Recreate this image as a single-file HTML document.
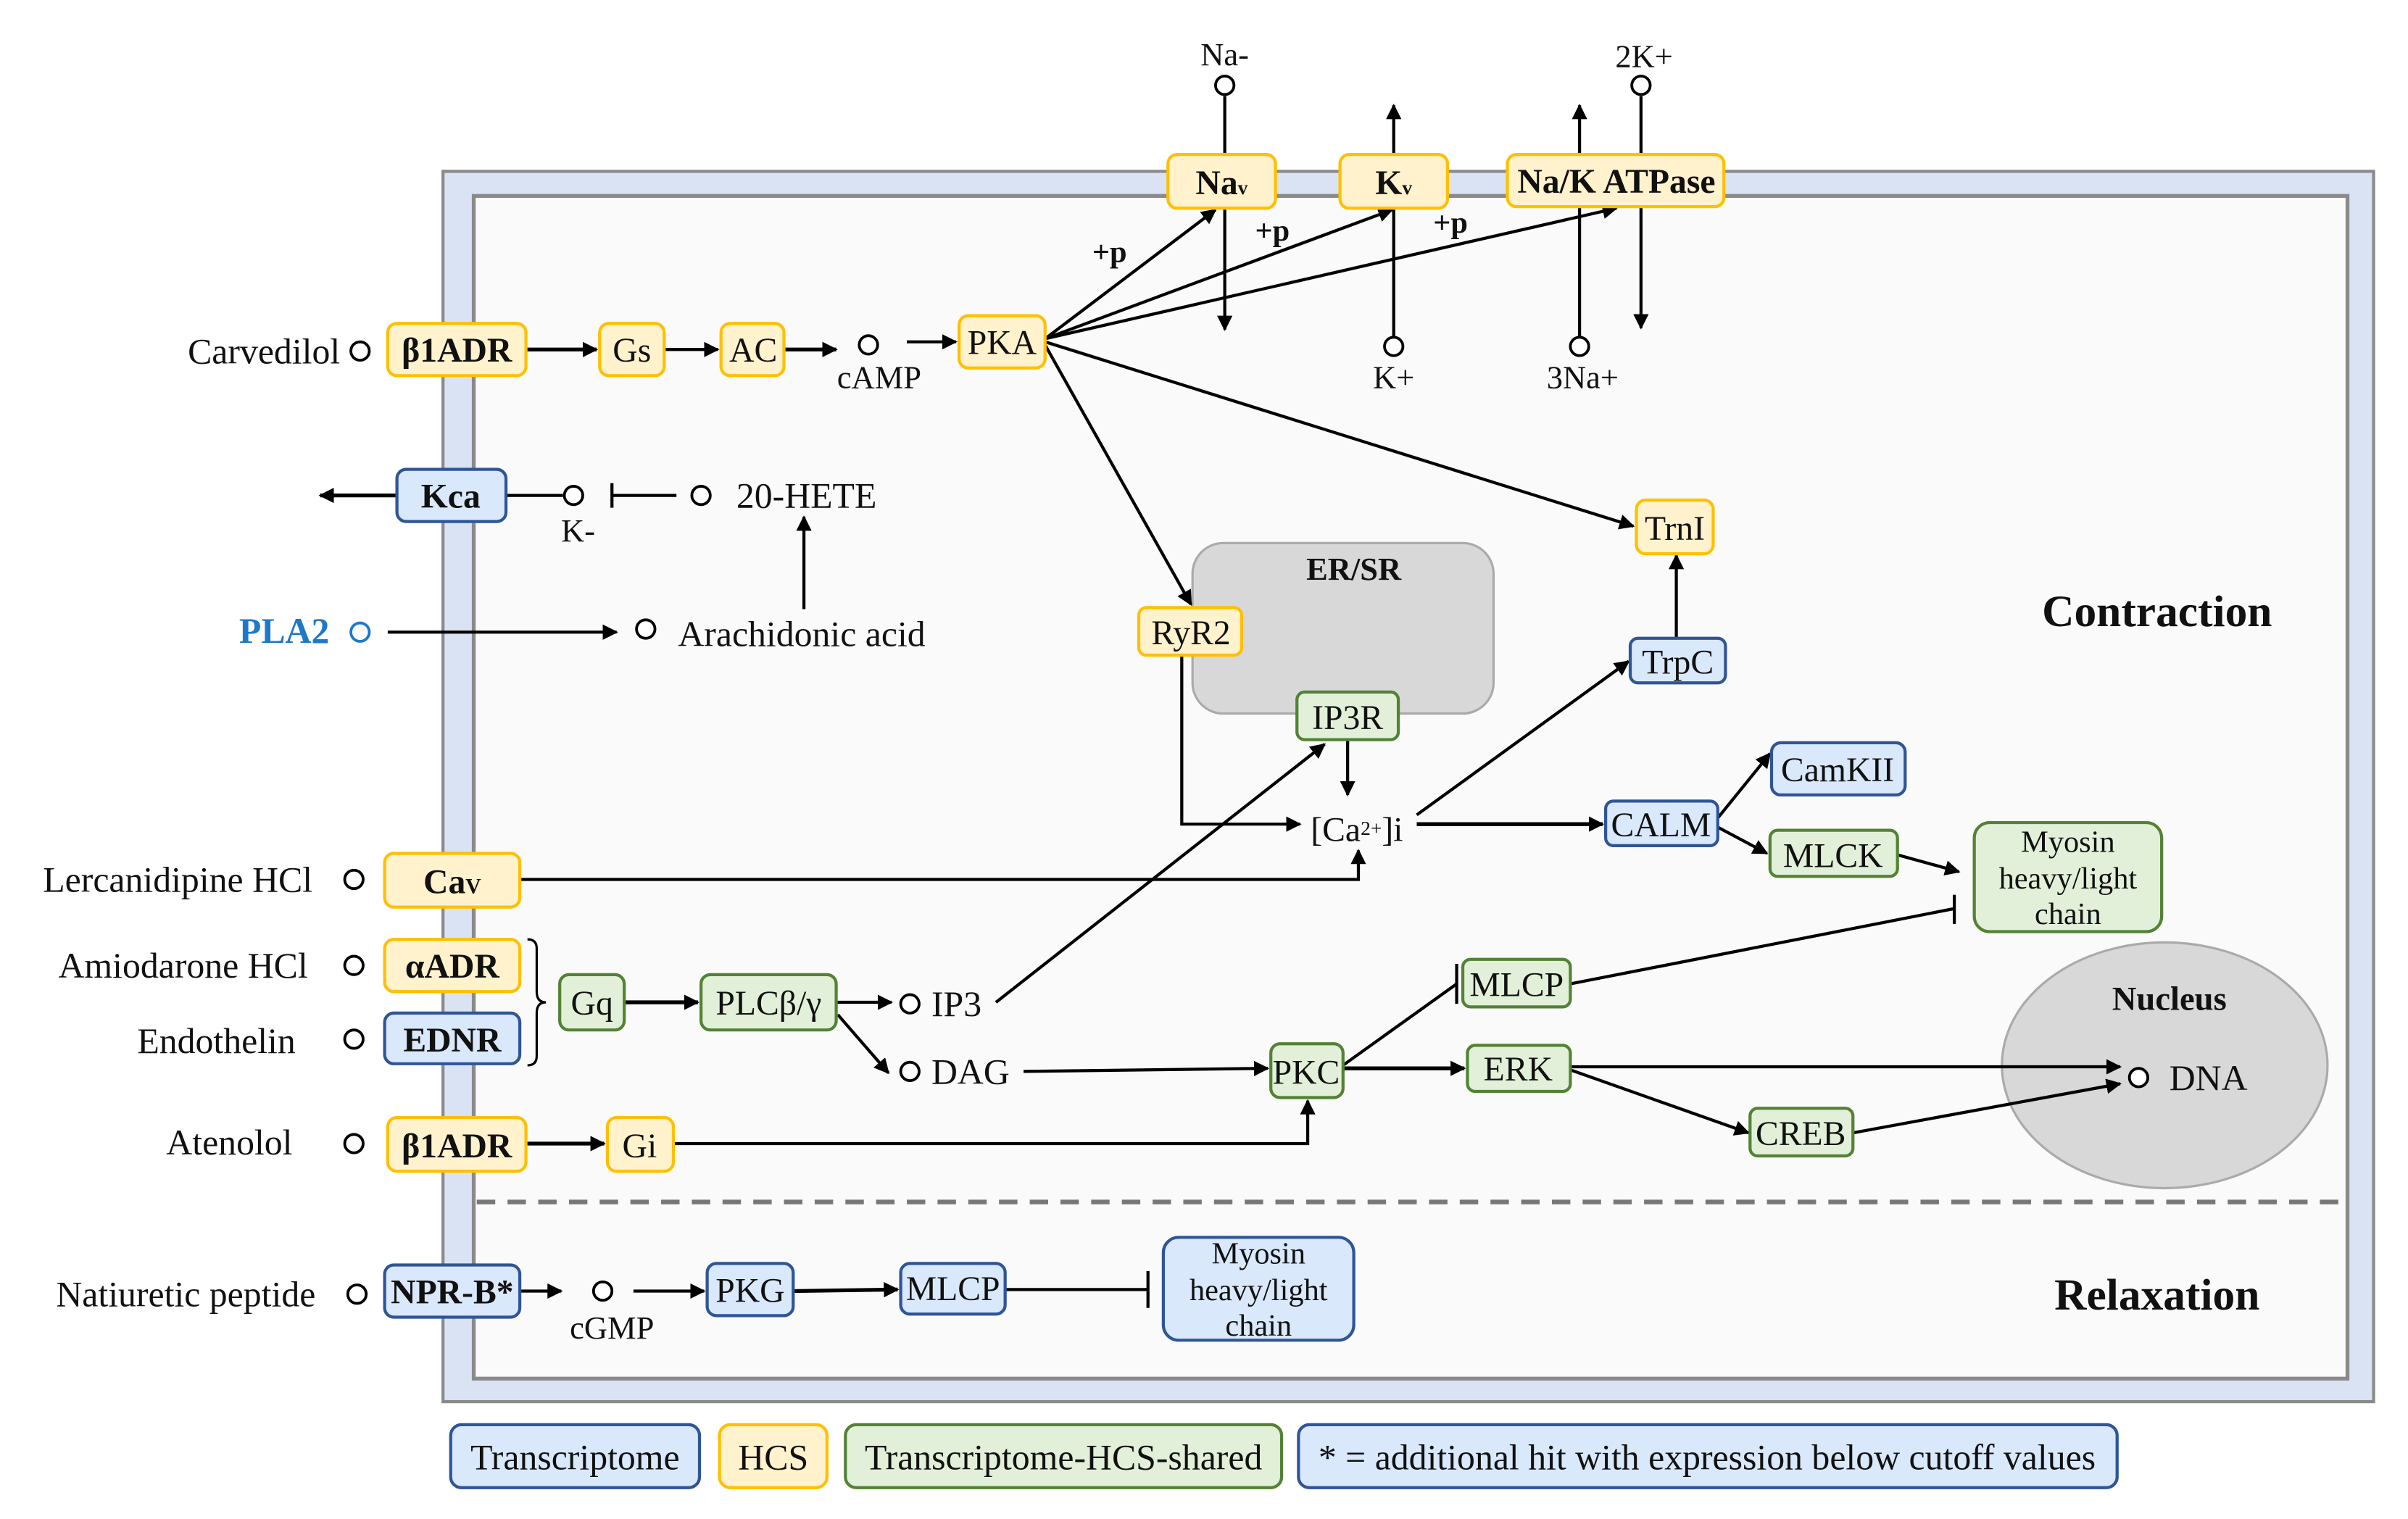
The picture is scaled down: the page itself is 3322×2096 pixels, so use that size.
<!DOCTYPE html>
<html><head><meta charset="utf-8"><style>
html,body{margin:0;padding:0;background:#fff;}
svg{display:block;}
text{font-family:"Liberation Serif",serif;fill:#111;}
.n{font-size:22.5px;text-anchor:middle;}
.b{font-weight:bold;}
.l{font-size:23.5px;}
.lg{font-size:23.5px;text-anchor:middle;}
.ln{stroke:#000;stroke-width:2;fill:none;}
.c{fill:#fff;stroke:#000;stroke-width:1.8;}
.y{fill:#fff2cc;stroke:#ffc000;stroke-width:2;}
.bl{fill:#dae8fc;stroke:#2f5597;stroke-width:2;}
.g{fill:#e2f0d9;stroke:#548235;stroke-width:2;}
</style></head><body>
<svg width="3322" height="2096" viewBox="0 0 1560 984" preserveAspectRatio="none" xmlns="http://www.w3.org/2000/svg">
<defs><marker id="a" markerWidth="10" markerHeight="10" refX="9" refY="5" orient="auto" markerUnits="userSpaceOnUse"><path d="M0,0 L10,5 L0,10 z" fill="#000"/></marker></defs>
<rect width="1560" height="984" fill="#fff"/>
<g transform="translate(0.44,0.55) scale(0.995)">
<!-- frame -->
<rect x="288" y="111" width="1257" height="801" fill="#dae3f3" stroke="#8a8a8a" stroke-width="2"/>
<rect x="308" y="127" width="1220" height="770" fill="#fafafa" stroke="#8a8a8a" stroke-width="2.5"/>
<line x1="310" y1="782" x2="1526" y2="782" stroke="#777" stroke-width="3" stroke-dasharray="12,8"/>
<!-- ER/SR & nucleus -->
<rect x="776" y="353" width="196" height="111" rx="20" fill="#d8d8d8" stroke="#aaa" stroke-width="1.5"/>
<text x="881" y="377" class="n b" style="font-size:21px">ER/SR</text>
<ellipse cx="1409" cy="693" rx="106" ry="80" fill="#d8d8d8" stroke="#aaa" stroke-width="1.5"/>
<text x="1412" y="657" class="n b" style="font-size:22px">Nucleus</text>
<circle cx="1392" cy="701" r="6" class="c"/><text x="1412" y="709" class="l">DNA</text>
<text x="1404" y="407" class="n b" style="font-size:29px">Contraction</text>
<text x="1404" y="852" class="n b" style="font-size:29px">Relaxation</text>

<!-- connectors -->
<g class="ln">
<line x1="342" y1="227" x2="388" y2="227" marker-end="url(#a)" stroke-width="2.5"/>
<line x1="432" y1="227" x2="467" y2="227" marker-end="url(#a)"/>
<line x1="510" y1="227" x2="544" y2="227" marker-end="url(#a)" stroke-width="2.5"/>
<line x1="590" y1="222" x2="622" y2="222" marker-end="url(#a)"/>
<line x1="680" y1="220" x2="791" y2="136" marker-end="url(#a)"/>
<line x1="680" y1="220" x2="906" y2="136" marker-end="url(#a)"/>
<line x1="680" y1="220" x2="1052" y2="135" marker-end="url(#a)"/>
<line x1="680" y1="222" x2="1063" y2="342" marker-end="url(#a)"/>
<line x1="680" y1="224" x2="775" y2="393" marker-end="url(#a)"/>
<line x1="797" y1="62" x2="797" y2="100"/>
<line x1="797" y1="135" x2="797" y2="214" marker-end="url(#a)"/>
<line x1="907" y1="100" x2="907" y2="68" marker-end="url(#a)"/>
<line x1="907" y1="219" x2="907" y2="135"/>
<line x1="1028" y1="100" x2="1028" y2="68" marker-end="url(#a)"/>
<line x1="1028" y1="219" x2="1028" y2="134"/>
<line x1="1068" y1="62" x2="1068" y2="100"/>
<line x1="1068" y1="134" x2="1068" y2="213" marker-end="url(#a)"/>
<line x1="258" y1="322" x2="208" y2="322" marker-end="url(#a)" stroke-width="2.5"/>
<line x1="329" y1="322" x2="366" y2="322"/>
<line x1="398" y1="322" x2="440" y2="322"/><line x1="398" y1="314" x2="398" y2="330"/>
<line x1="523" y1="396" x2="523" y2="336" marker-end="url(#a)"/>
<line x1="252" y1="411" x2="401" y2="411" marker-end="url(#a)"/>
<line x1="877" y1="481" x2="877" y2="517" marker-end="url(#a)"/>
<polyline points="769,426 769,536 846,536" marker-end="url(#a)"/>
<line x1="922" y1="530" x2="1060" y2="430" marker-end="url(#a)"/>
<line x1="922" y1="536" x2="1043" y2="536" marker-end="url(#a)" stroke-width="2.5"/>
<line x1="1091" y1="415" x2="1091" y2="361" marker-end="url(#a)"/>
<line x1="1118" y1="532" x2="1152" y2="490" marker-end="url(#a)"/>
<line x1="1118" y1="538" x2="1150" y2="555" marker-end="url(#a)"/>
<line x1="1235" y1="556" x2="1275" y2="567" marker-end="url(#a)"/>
<polyline points="338,572 884,572 884,553" marker-end="url(#a)"/>
<line x1="406" y1="652" x2="454" y2="652" marker-end="url(#a)" stroke-width="2.5"/>
<line x1="544" y1="652" x2="580" y2="652" marker-end="url(#a)"/>
<line x1="545" y1="660" x2="578" y2="698" marker-end="url(#a)"/>
<line x1="648" y1="652" x2="862" y2="484" marker-end="url(#a)"/>
<line x1="666" y1="697" x2="825" y2="695" marker-end="url(#a)"/>
<line x1="342" y1="744" x2="393" y2="744" marker-end="url(#a)" stroke-width="2.5"/>
<polyline points="438,744 851,744 851,716" marker-end="url(#a)"/>
<line x1="874" y1="693" x2="948" y2="640"/><line x1="948" y1="627" x2="948" y2="653"/>
<line x1="1022" y1="640" x2="1272" y2="591"/><line x1="1272" y1="582" x2="1272" y2="601"/>
<line x1="874" y1="695" x2="953" y2="695" marker-end="url(#a)" stroke-width="2.5"/>
<line x1="1022" y1="694" x2="1380" y2="694" marker-end="url(#a)"/>
<line x1="1022" y1="696" x2="1138" y2="737" marker-end="url(#a)"/>
<line x1="1206" y1="737" x2="1380" y2="705" marker-end="url(#a)"/>
<line x1="338" y1="840" x2="365" y2="840" marker-end="url(#a)"/>
<line x1="412" y1="840" x2="458" y2="840" marker-end="url(#a)"/>
<line x1="516" y1="840" x2="584" y2="839" marker-end="url(#a)" stroke-width="2.5"/>
<line x1="654" y1="839" x2="747" y2="839"/><line x1="747" y1="827" x2="747" y2="851"/>
<path d="M343,611 q6,0 6,6 v28 q0,7 6,7 q-6,0 -6,7 v28 q0,6 -6,6" stroke-width="1.5"/>
</g>
<!-- circles -->
<g class="c">
<circle cx="234" cy="228" r="6"/><circle cx="565" cy="224" r="6"/>
<circle cx="797" cy="55" r="6"/><circle cx="1068" cy="55" r="6"/>
<circle cx="907" cy="225" r="6"/><circle cx="1028" cy="225" r="6"/>
<circle cx="373" cy="322" r="6"/><circle cx="456" cy="322" r="6"/>
<circle cx="234" cy="411" r="6" style="stroke:#1f78c8"/><circle cx="420" cy="409" r="6"/>
<circle cx="230" cy="572" r="6"/><circle cx="230" cy="628" r="6"/><circle cx="230" cy="676" r="6"/><circle cx="230" cy="744" r="6"/>
<circle cx="592" cy="653" r="6"/><circle cx="592" cy="697" r="6"/>
<circle cx="232" cy="842" r="6"/><circle cx="392" cy="840" r="6"/>
</g>
<!-- labels -->
<text x="221" y="236" class="l" text-anchor="end">Carvedilol</text>
<text x="572" y="252" class="n" style="font-size:21px">cAMP</text>
<text x="797" y="42" class="n" style="font-size:21px">Na-</text>
<text x="1070" y="43" class="n" style="font-size:21px">2K+</text>
<text x="907" y="252" class="n" style="font-size:21px">K+</text>
<text x="1030" y="252" class="n" style="font-size:21px">3Na+</text>
<text x="722" y="170" class="n b" style="font-size:20px">+p</text>
<text x="828" y="156" class="n b" style="font-size:20px">+p</text>
<text x="944" y="151" class="n b" style="font-size:20px">+p</text>
<text x="376" y="352" class="n" style="font-size:21px">K-</text>
<text x="479" y="330" class="l">20-HETE</text>
<text x="214" y="418" class="l b" text-anchor="end" style="fill:#1f78c8">PLA2</text>
<text x="441" y="420" class="l">Arachidonic acid</text>
<text x="883" y="547" class="n">[Ca<tspan font-size="13" dy="-4">2+</tspan><tspan dy="4">]i</tspan></text>
<text x="203" y="580" class="l" text-anchor="end">Lercanidipine HCl</text>
<text x="200" y="636" class="l" text-anchor="end">Amiodarone HCl</text>
<text x="192" y="685" class="l" text-anchor="end">Endothelin</text>
<text x="190" y="751" class="l" text-anchor="end">Atenolol</text>
<text x="205" y="850" class="l" text-anchor="end">Natiuretic peptide</text>
<text x="606" y="661" class="l">IP3</text>
<text x="606" y="705" class="l">DAG</text>
<text x="398" y="871" class="n" style="font-size:21px">cGMP</text>

<!-- nodes -->
<g>
<rect x="252" y="210" width="90" height="34" rx="6" class="y"/><text x="297" y="235" class="n b">β1ADR</text>
<rect x="390" y="210" width="42" height="34" rx="6" class="y"/><text x="411" y="235" class="n">Gs</text>
<rect x="469" y="210" width="41" height="34" rx="6" class="y"/><text x="490" y="235" class="n">AC</text>
<rect x="624" y="205" width="56" height="34" rx="6" class="y"/><text x="652" y="230" class="n">PKA</text>
<rect x="760" y="100" width="70" height="35" rx="6" class="y"/><text x="795" y="126" class="n b">Na<tspan font-size="13">v</tspan></text>
<rect x="872" y="100" width="70" height="35" rx="6" class="y"/><text x="907" y="126" class="n b">K<tspan font-size="13">v</tspan></text>
<rect x="981" y="100" width="141" height="34" rx="6" class="y"/><text x="1052" y="125" class="n b">Na/K ATPase</text>
<rect x="1065" y="325" width="50" height="35" rx="6" class="y"/><text x="1090" y="351" class="n">TrnI</text>
<rect x="741" y="395" width="67" height="31" rx="5" class="y"/><text x="775" y="419" class="n">RyR2</text>
<rect x="844" y="450" width="66" height="31" rx="5" class="g"/><text x="877" y="474" class="n">IP3R</text>
<rect x="1061" y="415" width="62" height="29" rx="5" class="bl"/><text x="1092" y="438" class="n">TrpC</text>
<rect x="1045" y="521" width="73" height="29" rx="5" class="bl"/><text x="1081" y="544" class="n">CALM</text>
<rect x="1153" y="483" width="87" height="34" rx="6" class="bl"/><text x="1196" y="508" class="n">CamKII</text>
<rect x="1152" y="540" width="83" height="30" rx="5" class="g"/><text x="1193" y="564" class="n">MLCK</text>
<rect x="1285" y="535" width="122" height="71" rx="10" class="g"/>
<text x="1346" y="554" class="n" style="font-size:20px">Myosin</text><text x="1346" y="578" class="n" style="font-size:20px">heavy/light</text><text x="1346" y="601" class="n" style="font-size:20px">chain</text>
<rect x="258" y="305" width="71" height="34" rx="6" class="bl"/><text x="293" y="330" class="n b">Kca</text>
<rect x="250" y="555" width="88" height="35" rx="6" class="y"/><text x="294" y="581" class="n b">Ca<tspan font-size="14">V</tspan></text>
<rect x="250" y="611" width="88" height="34" rx="6" class="y"/><text x="294" y="636" class="n b">αADR</text>
<rect x="250" y="659" width="88" height="33" rx="6" class="bl"/><text x="294" y="684" class="n b">EDNR</text>
<rect x="364" y="634" width="42" height="36" rx="6" class="g"/><text x="385" y="660" class="n">Gq</text>
<rect x="456" y="634" width="88" height="36" rx="6" class="g"/><text x="500" y="660" class="n">PLCβ/γ</text>
<rect x="827" y="679" width="47" height="35" rx="6" class="g"/><text x="850" y="705" class="n">PKC</text>
<rect x="952" y="624" width="70" height="31" rx="5" class="g"/><text x="987" y="648" class="n">MLCP</text>
<rect x="955" y="680" width="67" height="30" rx="5" class="g"/><text x="988" y="703" class="n">ERK</text>
<rect x="1139" y="721" width="67" height="31" rx="5" class="g"/><text x="1172" y="745" class="n">CREB</text>
<rect x="252" y="727" width="90" height="35" rx="6" class="y"/><text x="297" y="753" class="n b">β1ADR</text>
<rect x="395" y="727" width="43" height="35" rx="6" class="y"/><text x="416" y="753" class="n">Gi</text>
<rect x="250" y="823" width="88" height="34" rx="6" class="bl"/><text x="294" y="848" class="n b">NPR-B*</text>
<rect x="460" y="822" width="56" height="34" rx="6" class="bl"/><text x="488" y="847" class="n">PKG</text>
<rect x="586" y="822" width="68" height="33" rx="6" class="bl"/><text x="620" y="846" class="n">MLCP</text>
<rect x="757" y="805" width="124" height="67" rx="10" class="bl"/>
<text x="819" y="822" class="n" style="font-size:20px">Myosin</text><text x="819" y="846" class="n" style="font-size:20px">heavy/light</text><text x="819" y="869" class="n" style="font-size:20px">chain</text>
</g>
<!-- legend -->
<rect x="293" y="927" width="162" height="41" rx="7" class="bl"/><text x="374" y="956" class="lg">Transcriptome</text>
<rect x="468" y="927" width="70" height="41" rx="7" class="y"/><text x="503" y="956" class="lg">HCS</text>
<rect x="550" y="927" width="284" height="41" rx="7" class="g"/><text x="692" y="956" class="lg">Transcriptome-HCS-shared</text>
<rect x="845" y="927" width="533" height="41" rx="7" class="bl"/><text x="1111" y="956" class="lg">* = additional hit with expression below cutoff values</text>
</g>
</svg>
</body></html>
